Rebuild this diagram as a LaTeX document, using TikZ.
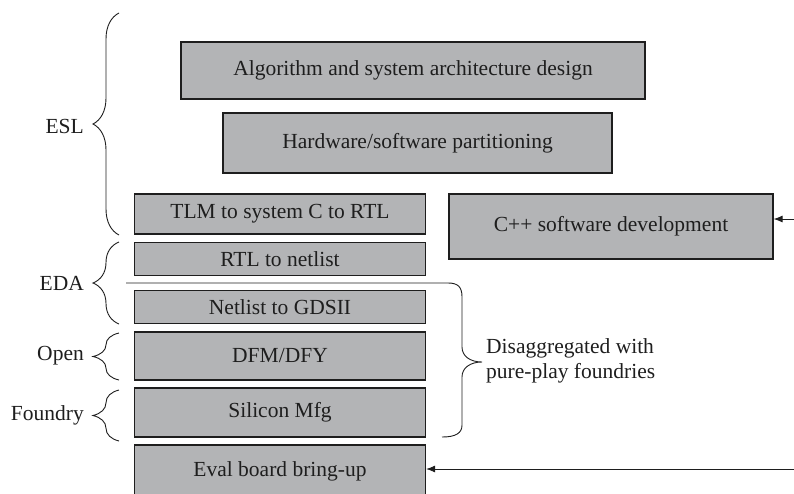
\documentclass[tikz,border=0pt]{standalone}
\usepackage{fontspec}
\setmainfont{Liberation Serif}
\usetikzlibrary{arrows.meta,decorations.pathreplacing}
\definecolor{boxgray}{RGB}{179,180,182}
\definecolor{linegray}{RGB}{30,30,30}
\begin{document}
\begin{tikzpicture}[x=1pt,y=-1pt,
  every node/.style={font=\fontsize{21.5}{25}\selectfont, text=linegray},
  stagebox/.style={draw=linegray, line width=1.2pt, fill=boxgray, inner sep=0pt},
  bracestyle/.style={draw=linegray, line width=0.9pt, decorate,
     decoration={brace, amplitude=26pt}},
  conn/.style={draw=linegray, line width=0.9pt, -{Latex[length=9pt,width=7pt]}}]
\useasboundingbox (0,0) rectangle (794,493);
\clip (0,0) rectangle (794,493);
% boxes
\node[stagebox, minimum width=464pt, minimum height=57pt] (alg) at (413,70.5) {Algorithm and system architecture design};
\node[stagebox, minimum width=389pt, minimum height=60pt] (hw) at (417.5,143) {Hardware/software partitioning};
\node[stagebox, minimum width=291pt, minimum height=40pt] (tlm) at (280,214) {TLM to system C to RTL};
\node[stagebox, minimum width=291pt, minimum height=33pt] (rtl) at (280,259) {RTL to netlist};
\node[stagebox, minimum width=291pt, minimum height=33pt] (gds) at (280,307) {Netlist to GDSII};
\node[stagebox, minimum width=291pt, minimum height=48pt] (dfm) at (280,356) {DFM/DFY};
\node[stagebox, minimum width=291pt, minimum height=49pt] (si) at (280,412.5) {Silicon Mfg};
\node[stagebox, minimum width=291pt, minimum height=54pt] (eval) at (280,472) {\raisebox{5pt}{Eval board bring-up}};
\node[stagebox, minimum width=324pt, minimum height=65pt] (cpp) at (611,226.5) {C++ software development};
% arrows
\coordinate (cppsrc) at (796,219);
\coordinate (evalsrc) at (796,469);
\draw[conn] (cppsrc) -- (cpp.east |- cppsrc);
\draw[conn] (evalsrc) -- (eval.east |- evalsrc);
% left braces
\coordinate (eslB) at (119,235); \coordinate (eslT) at (119,13);
\coordinate (edaB) at (119,324); \coordinate (edaT) at (119,242);
\coordinate (opnB) at (119,380); \coordinate (opnT) at (119,333);
\coordinate (fndB) at (119,441); \coordinate (fndT) at (119,390);
\draw[bracestyle] (eslB) -- (eslT);
\draw[bracestyle] (edaB) -- (edaT);
\draw[bracestyle] (opnB) -- (opnT);
\draw[bracestyle] (fndB) -- (fndT);
\node[anchor=east, inner sep=0pt] (esl) at (84,126) {ESL};
\node[anchor=east, inner sep=0pt] (eda) at (84,283) {EDA};
\node[anchor=east, inner sep=0pt] (open) at (84,356) {Open};
\node[anchor=east, inner sep=0pt] (fnd) at (84,415) {Foundry};
% right brace (with long top arm)
\coordinate (rbT) at (126,283);
\coordinate (rbB) at (442,437);
\draw[linegray, line width=0.9pt] (rbT) -- (448,283) .. controls (458,283) and (462,287) .. (462,297)
  -- (462,347) .. controls (462,356) and (470,362) .. (482,362)
  .. controls (470,362) and (462,368) .. (462,377)
  -- (462,425) .. controls (462,433) and (456,437) .. (rbB);
\node[anchor=west, align=left, inner sep=0pt] (dis) at (486,361) {Disaggregated with\\pure-play foundries};
\end{tikzpicture}
\end{document}
